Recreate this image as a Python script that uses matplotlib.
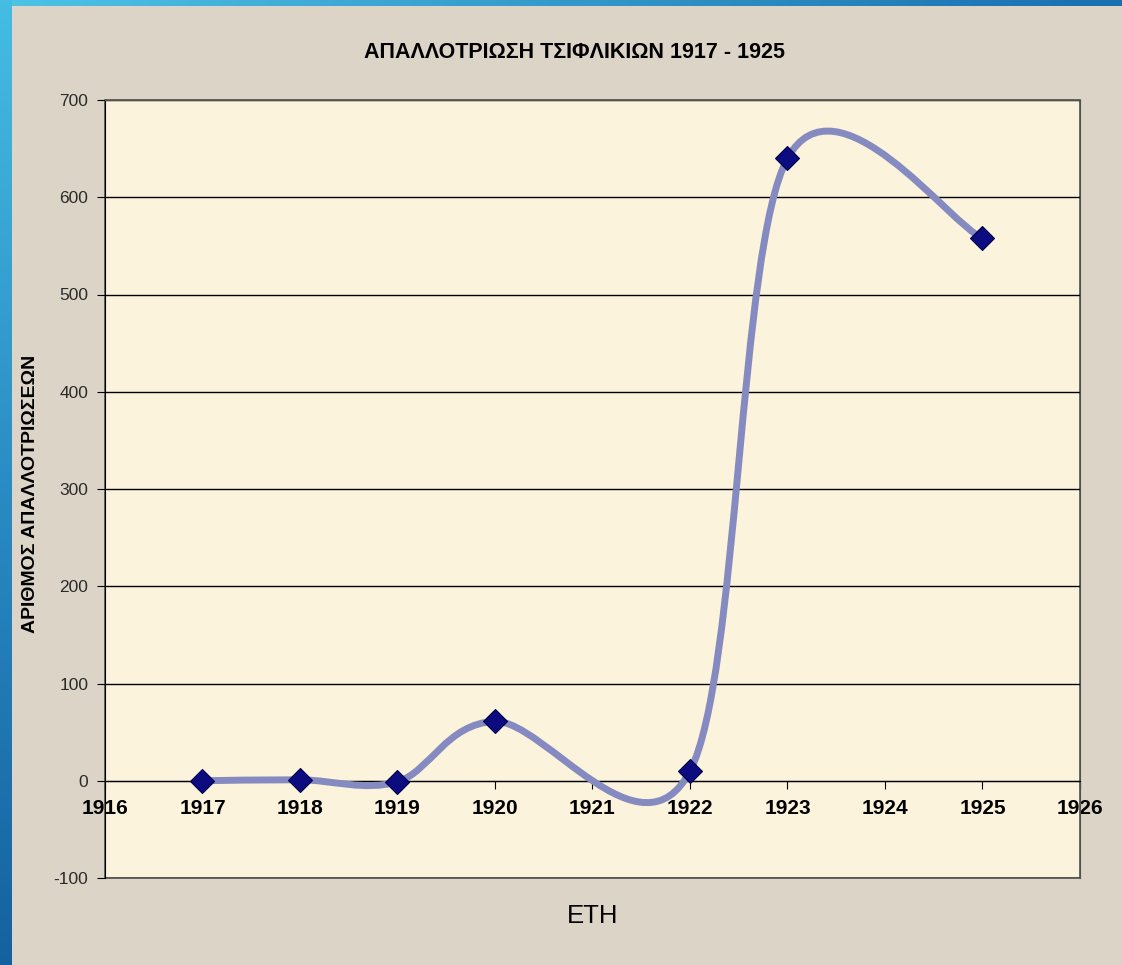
import numpy as np
import matplotlib.pyplot as plt
from matplotlib.path import Path
from matplotlib.patches import PathPatch
from matplotlib.colors import LinearSegmentedColormap

plt.rcParams['font.family'] = ['Liberation Sans', 'DejaVu Sans']
plt.rcParams['axes.unicode_minus'] = False

years = [1917, 1918, 1919, 1920, 1922, 1923, 1925]
counts = [0, 1, -1, 61, 10, 640, 558]

title = "ΑΠΑΛΛΟΤΡΙΩΣΗ ΤΣΙΦΛΙΚΙΩΝ 1917 - 1925"
x_title = "ΕΤΗ"
y_title = "ΑΡΙΘΜΟΣ ΑΠΑΛΛΟΤΡΙΩΣΕΩΝ"
x_ticks = list(range(1916, 1927))
y_ticks = list(range(-100, 701, 100))


def smooth_path(xs, ys):
    """Excel style smoothed line, built from cubic bezier segments."""
    pts = np.column_stack([xs, ys]).astype(float)
    padded = np.vstack([pts[0], pts, pts[-1]])
    verts = [pts[0]]
    codes = [Path.MOVETO]
    for i in range(len(pts) - 1):
        p0, p1, p2, p3 = padded[i], padded[i + 1], padded[i + 2], padded[i + 3]
        verts += [p1 + (p2 - p0) / 6, p2 - (p3 - p1) / 6, p2]
        codes += [Path.CURVE4] * 3
    return Path(verts, codes)


fig = plt.figure(figsize=(11.22, 9.65), dpi=100)
fig.patch.set_facecolor('#dcd5c7')

# blue frame strips (top and left)
top = fig.add_axes([0, 1 - 6 / 965, 1, 6 / 965])
top.imshow(np.linspace(0, 1, 256)[None, :], aspect='auto',
           cmap=LinearSegmentedColormap.from_list('t', ['#4ec3e6', '#1a6fae']))
top.set_axis_off()
left = fig.add_axes([0, 0, 12 / 1122, 1])
left.imshow(np.linspace(0, 1, 256)[:, None], aspect='auto',
            cmap=LinearSegmentedColormap.from_list('l', ['#45bde3', '#2a8cc4', '#1561a0']))
left.set_axis_off()

ax = fig.add_axes([105 / 1122, 1 - 878 / 965, 975 / 1122, 778 / 965])
ax.set_facecolor('#fbf3dc')
ax.patch.set_edgecolor('#505050')
ax.patch.set_linewidth(1.2)

ax.add_patch(PathPatch(smooth_path(years, counts), fill=False,
                       edgecolor='#858ac0', lw=5, zorder=3))
ax.plot(years, counts, ls='none', marker='D', ms=12, color='#0c0c80',
        mec='#00004a', mew=0.8, zorder=4)

ax.set_xlim(1916, 1926)
ax.set_ylim(-100, 700)
ax.set_xticks(x_ticks)
ax.set_yticks(y_ticks)
ax.yaxis.grid(True, color='black', lw=1)
ax.set_axisbelow(True)

ax.spines['bottom'].set_position(('data', 0))
for s in ['top', 'right']:
    ax.spines[s].set_color('#505050')
ax.spines['left'].set_color('black')
ax.spines['bottom'].set_color('black')

ax.tick_params(axis='x', direction='out', length=6, pad=7, labelsize=15)
ax.tick_params(axis='y', direction='out', length=6, pad=6, labelsize=12.5,
               labelcolor='#2a2a2a')
for lbl in ax.get_xticklabels():
    lbl.set_fontweight('bold')

fig.text(574 / 1122, 1 - 52 / 965, title, ha='center', va='center',
         fontsize=15.5, fontweight='bold')
fig.text(31 / 1122, 1 - 494 / 965, y_title, ha='center', va='center',
         rotation=90, fontsize=14, fontweight='bold')
fig.text(593 / 1122, 1 - 916 / 965, x_title, ha='center', va='center',
         fontsize=18.5)

plt.savefig('out.png', dpi=100, facecolor=fig.get_facecolor())
